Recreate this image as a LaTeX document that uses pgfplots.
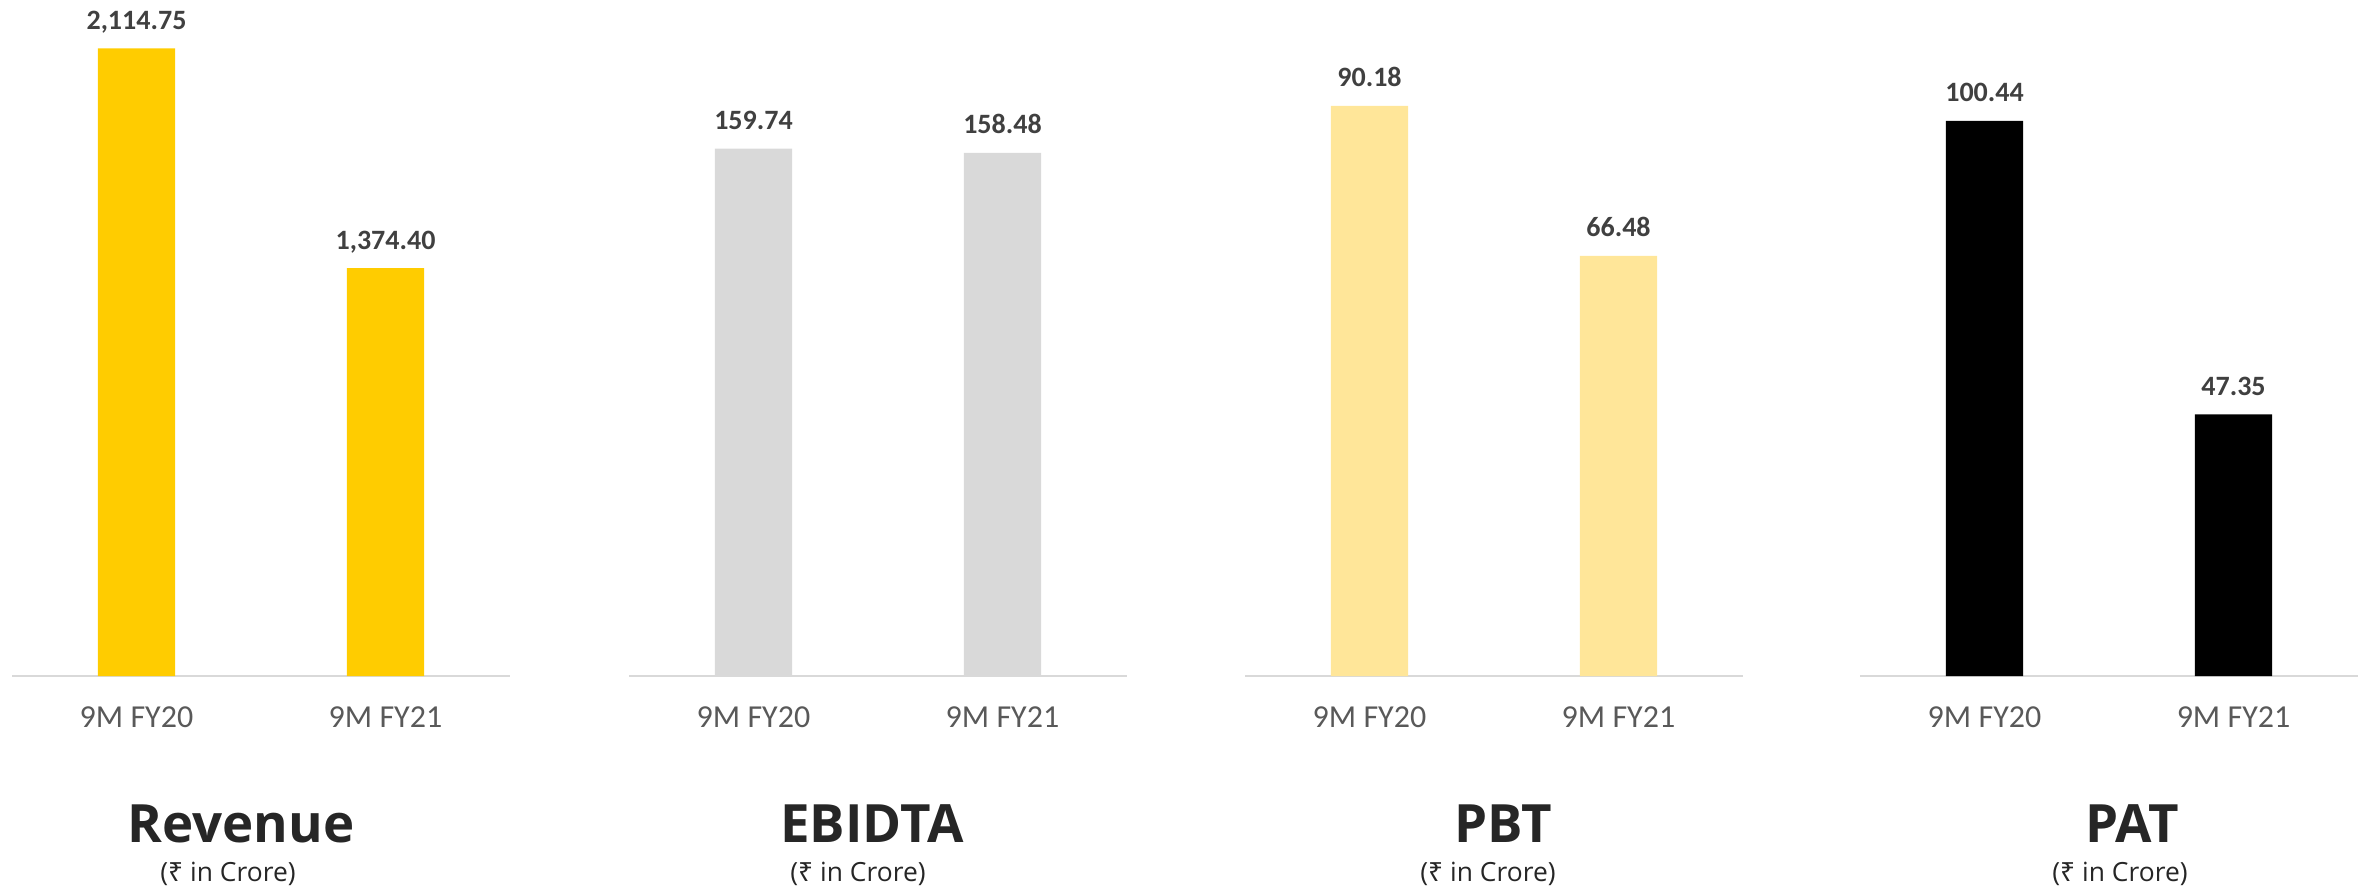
\documentclass[border=0pt]{standalone}
\usepackage{fontspec}
\usepackage{pgfplots}
\pgfplotsset{compat=1.18}
\setmainfont{Carlito}
\newfontfamily\opensans{Open Sans}
\newfontfamily\rupeefont{Noto Sans}

\definecolor{revgold}{HTML}{FFCC00}
\definecolor{ebgray}{HTML}{D9D9D9}
\definecolor{pbtyellow}{HTML}{FFE699}
\definecolor{axisgray}{HTML}{D9D9D9}
\definecolor{labelgray}{HTML}{404040}
\definecolor{tickgray}{HTML}{595959}
\definecolor{titlegray}{HTML}{262626}

% 1 px of the reference = 0.25pt
\pgfplotsset{panel/.style={
    scale only axis, width=124.5pt,
    anchor=south west,
    xmin=-0.5, xmax=1.5, ymin=0,
    axis x line=bottom, axis y line=none,
    x axis line style={-, draw=axisgray, line width=0.5pt},
    xtick={0,1}, xticklabels={9M FY20,9M FY21},
    major tick length=0pt, ytick=\empty,
    xticklabel style={font=\fontsize{8}{9}\selectfont, text=tickgray,
      anchor=base, inner sep=0pt, yshift=-12.9pt},
    ybar, bar width=0.31, clip=false,
    nodes near coords={\pgfmathprintnumber[fixed,fixed zerofill,precision=2,1000 sep={,},assume math mode=true]{\pgfplotspointmeta}},
    every node near coord/.append style={font=\bfseries\fontsize{7}{8}\selectfont,
      text=labelgray, anchor=base, inner sep=0pt, yshift=4.75pt},
  }}

\newcommand{\subt}{(\rupeefont ₹\opensans{} in Crore)}

\begin{document}
\begin{tikzpicture}
\useasboundingbox (0,0) rectangle (594.25pt,222.5pt);

% Revenue
\begin{axis}[panel, at={(3pt,53.5pt)}, height=156.9pt, ymax=2114.75]
  \addplot[fill=revgold, draw=none] coordinates {(0,2114.75) (1,1374.40)};
\end{axis}

% EBIDTA
\begin{axis}[panel, at={(157.25pt,53.5pt)}, height=131.85pt, ymax=159.74]
  \addplot[fill=ebgray, draw=none] coordinates {(0,159.74) (1,158.48)};
\end{axis}

% PBT
\begin{axis}[panel, at={(311.25pt,53.5pt)}, height=142.5pt, ymax=90.18]
  \addplot[fill=pbtyellow, draw=none] coordinates {(0,90.18) (1,66.48)};
\end{axis}

% PAT
\begin{axis}[panel, at={(465pt,53.5pt)}, height=138.75pt, ymax=100.44]
  \addplot[fill=black, draw=none] coordinates {(0,100.44) (1,47.35)};
\end{axis}

% panel titles
\begin{scope}[every node/.style={inner sep=0pt, anchor=base, text=titlegray}]
  \node[font=\opensans\bfseries\fontsize{13.2}{15}\selectfont] at (60.25pt,12pt) {Revenue};
  \node[font=\opensans\bfseries\fontsize{13.2}{15}\selectfont] at (218pt,12pt) {EBIDTA};
  \node[font=\opensans\bfseries\fontsize{13.2}{15}\selectfont] at (375.75pt,12pt) {PBT};
  \node[font=\opensans\bfseries\fontsize{13.2}{15}\selectfont] at (533pt,12pt) {PAT};
  \node[font=\opensans\fontsize{6.6}{8}\selectfont] at (57pt,2.25pt) {\subt};
  \node[font=\opensans\fontsize{6.6}{8}\selectfont] at (214.5pt,2.25pt) {\subt};
  \node[font=\opensans\fontsize{6.6}{8}\selectfont] at (372pt,2.25pt) {\subt};
  \node[font=\opensans\fontsize{6.6}{8}\selectfont] at (530pt,2.25pt) {\subt};
\end{scope}
\end{tikzpicture}
\end{document}
